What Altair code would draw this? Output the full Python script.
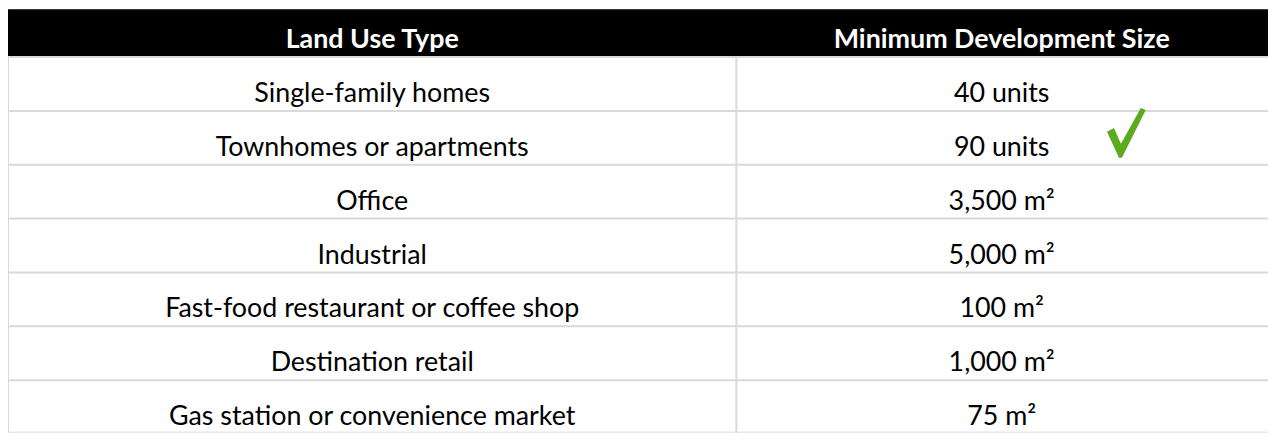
import altair as alt
import pandas as pd

# ---- table content ----
header = ["Land Use Type", "Minimum Development Size"]
land_use = [
    "Single-family homes",
    "Townhomes or apartments",
    "Office",
    "Industrial",
    "Fast-food restaurant or coffee shop",
    "Destination retail",
    "Gas station or convenience market",
]
min_size = ["40 units", "90 units", "3,500 m²", "5,000 m²", "100 m²", "1,000 m²", "75 m²"]
check_row = 2  # the green check sits beside "90 units"

# ---- layout (pixels) ----
W, H = 1268, 425
col_edges = [0, 733, 1267]
header_h = 48
row_h = 54.2
n_rows = len(land_use)
col_centers = [(col_edges[i] + col_edges[i + 1]) / 2 for i in range(2)]
check_x = 1125.5
check_dy = -5  # offset from row center (px)

FONT = "Lato"
FS = 27
LINE = "#d9d9d9"

xs = alt.Scale(domain=[0, W], range=[0, W], nice=False, zero=False)
ys = alt.Scale(domain=[-header_h / row_h, (H - header_h) / row_h], reverse=True, nice=False, zero=False)
X = lambda f: alt.X(f, type="quantitative", scale=xs, axis=None)
Y = lambda f: alt.Y(f, type="quantitative", scale=ys, axis=None)

# header band
band = pd.DataFrame({"x": [0], "x2": [W], "y": [-header_h / row_h], "y2": [0]})
band_l = alt.Chart(band).mark_rect(color="#000000").encode(
    x=X("x"), x2="x2", y=Y("y"), y2="y2")

# horizontal rules (row bottoms, incl. header bottom)
hl = pd.DataFrame({"y": list(range(0, n_rows + 1)), "x": 0, "x2": W})
hl_l = alt.Chart(hl).mark_rule(color=LINE, strokeWidth=2).encode(
    x=X("x"), x2="x2", y=Y("y"))

# vertical rules
vl = pd.DataFrame({"x": col_edges[:2], "y": 0, "y2": n_rows + 1})
vl_l = alt.Chart(vl).mark_rule(color=LINE, strokeWidth=2).encode(
    x=X("x"), y=Y("y"), y2="y2")

# header text
hd = pd.DataFrame({"t": header, "x": col_centers, "y": 0})
hd_l = alt.Chart(hd).mark_text(font=FONT, fontSize=FS, fontWeight="bold", color="white",
                               baseline="alphabetic", align="center", dy=-9).encode(
    x=X("x"), y=Y("y"), text="t:N")

# body text
rows = []
for i, (a, b) in enumerate(zip(land_use, min_size)):
    rows.append({"t": a, "x": col_centers[0], "y": i + 1})
    rows.append({"t": b, "x": col_centers[1], "y": i + 1})
bd = pd.DataFrame(rows)
bd_l = alt.Chart(bd).mark_text(font=FONT, fontSize=FS, color="#000000",
                               baseline="alphabetic", align="center", dy=-9).encode(
    x=X("x"), y=Y("y"), text="t:N")

# check mark (image with white background that masks the rule)
ck = pd.DataFrame({"x": [check_x], "y": [check_row - 0.5 + check_dy / row_h]})
mask_l = alt.Chart(ck).mark_point(shape="square", filled=True, color="white", opacity=1,
                                  size=1600, strokeWidth=0).encode(x=X("x"), y=Y("y"))
check_path = ("M -0.78 -0.04 L -0.5 -0.2 L -0.22 0.44 L 0.58 -1.0 L 0.78 -0.92 "
              "L -0.18 1.0 L -0.3 1.0 Z")
ck_l = alt.Chart(ck).mark_point(shape=check_path, filled=True, color="#5BAA1F", opacity=1,
                                size=2500, strokeWidth=0).encode(x=X("x"), y=Y("y"))

chart = alt.layer(band_l, hl_l, vl_l, mask_l, ck_l, hd_l, bd_l).properties(
    width=W, height=H, padding=0, autosize=alt.AutoSizeParams(type="none")
).configure_view(stroke=None).configure(background="white")

chart.save("out.html", embed_options={"renderer": "svg", "actions": False})
